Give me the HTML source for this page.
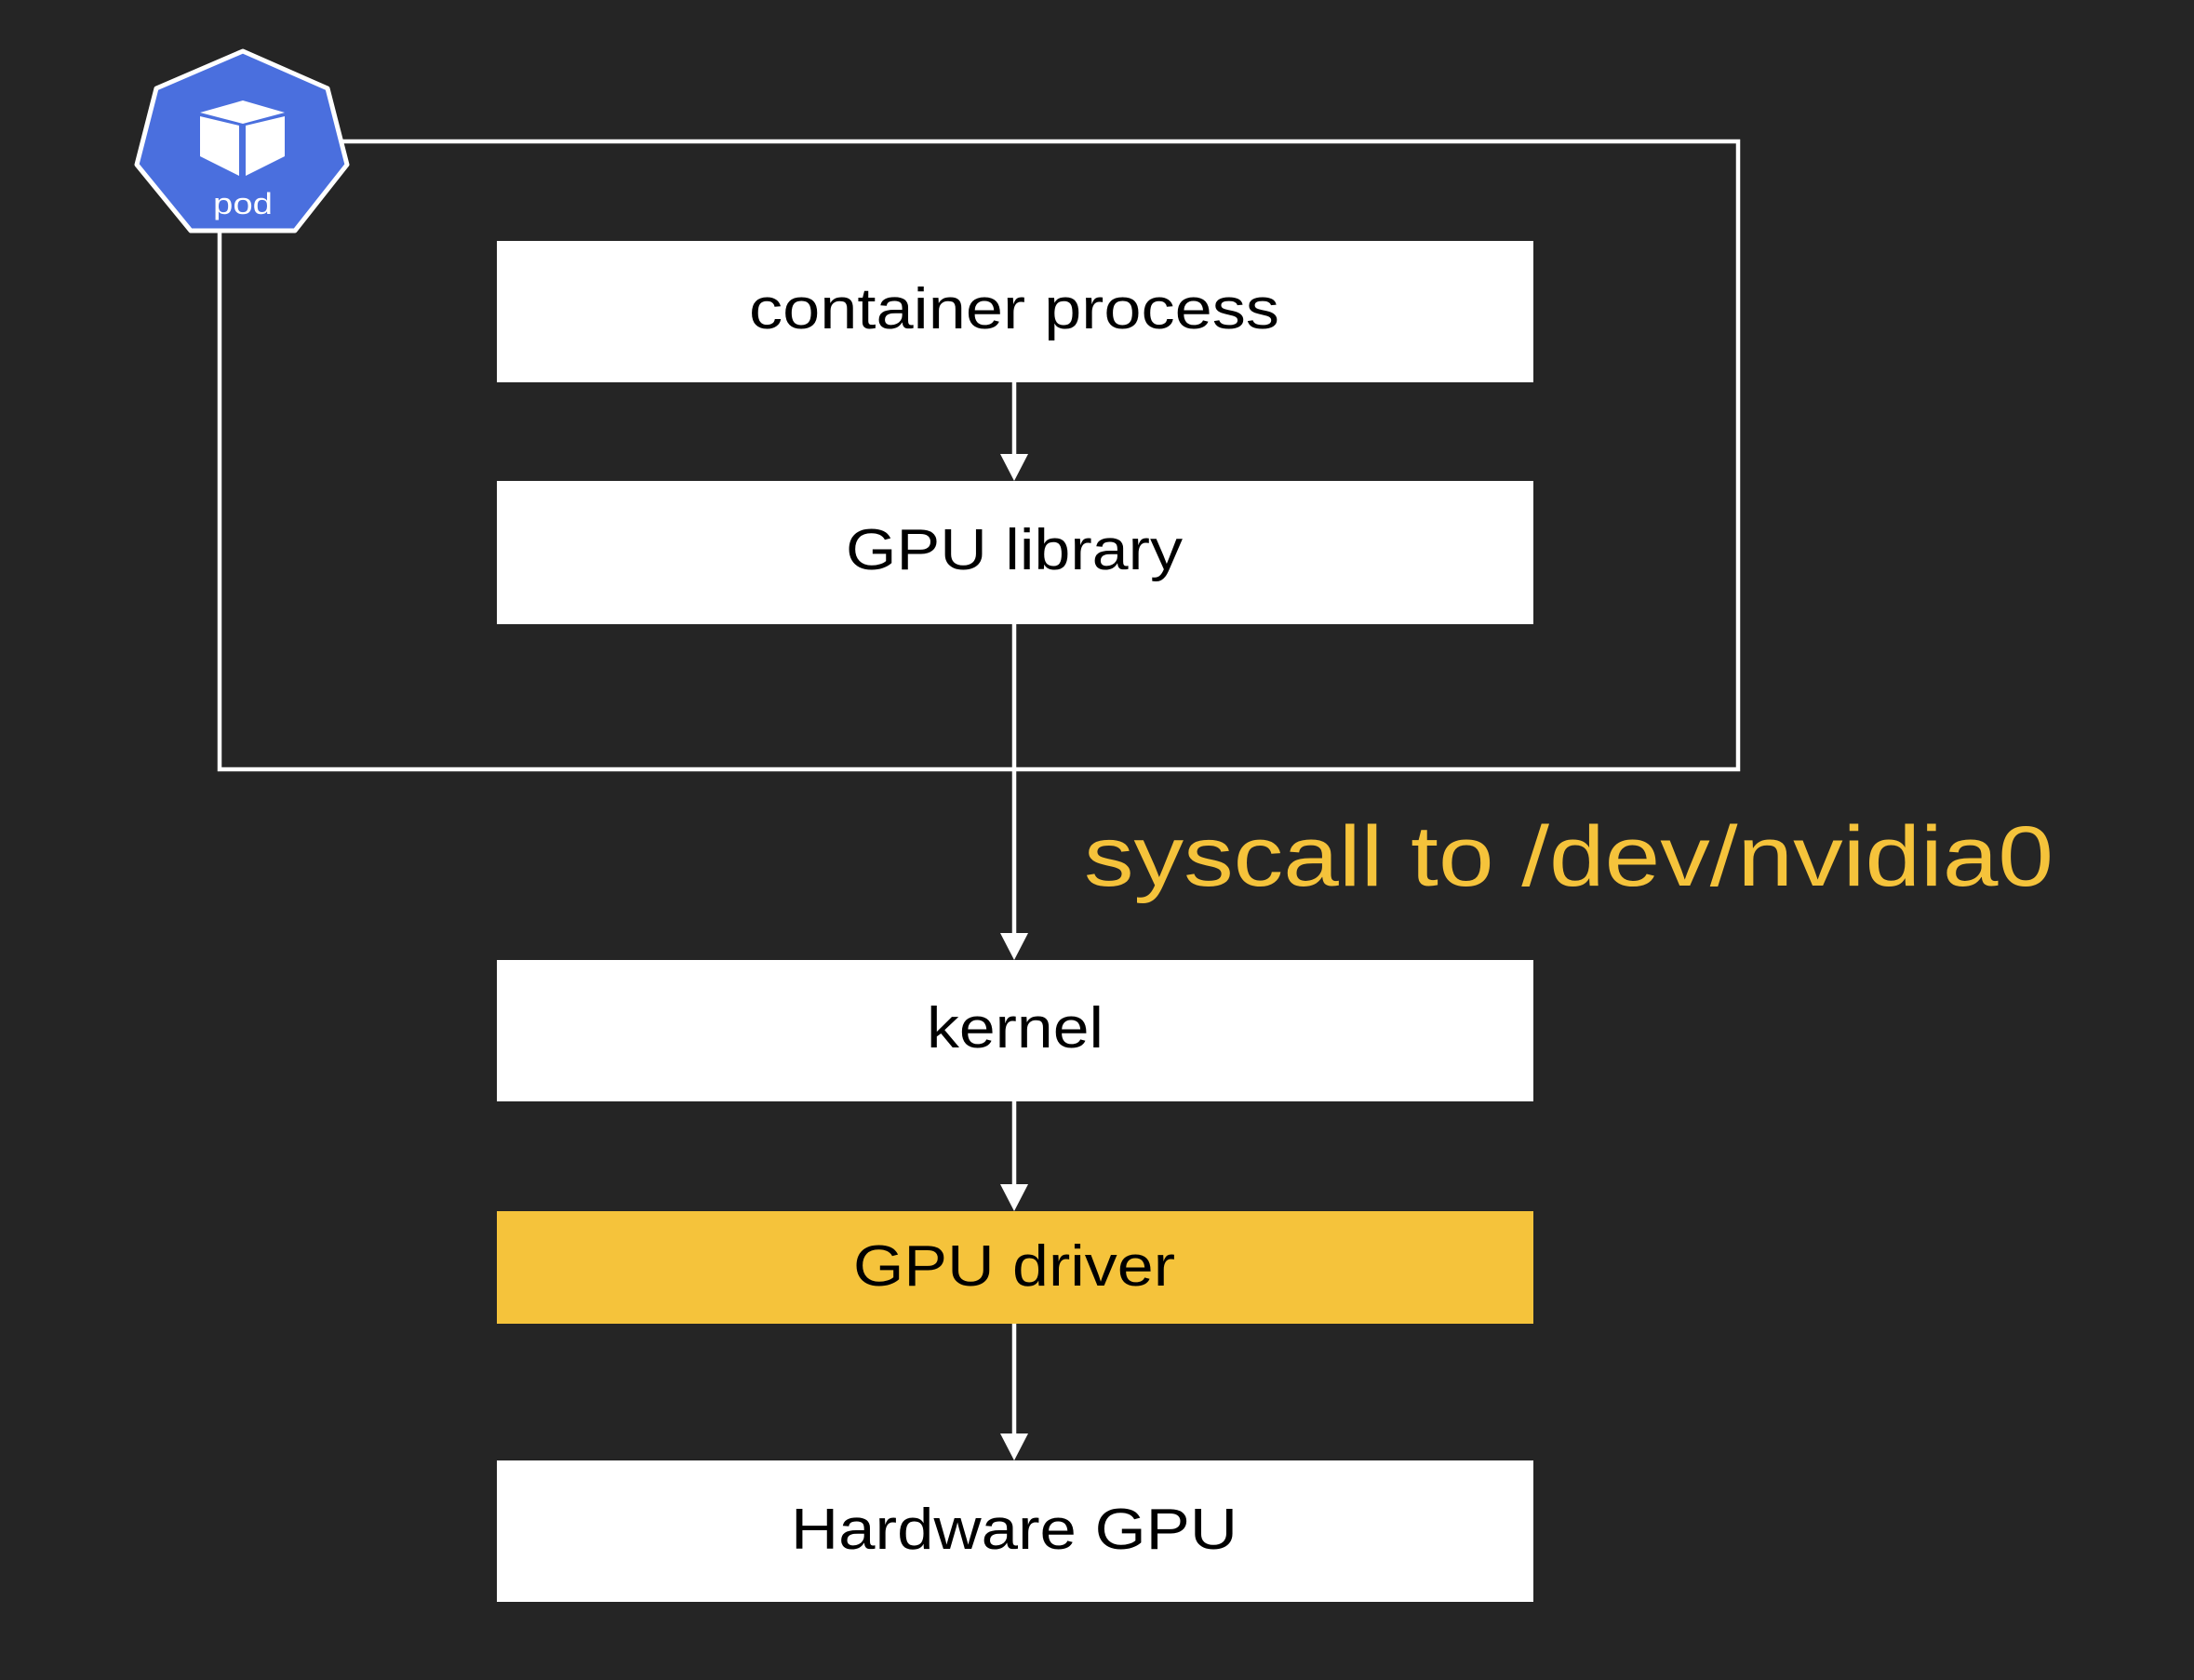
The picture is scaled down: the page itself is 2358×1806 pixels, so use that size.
<!DOCTYPE html>
<html><head><meta charset="utf-8"><style>
html,body{margin:0;padding:0;background:#252525;}
body{width:2358px;height:1806px;position:relative;overflow:hidden;}
</style></head><body>
<svg width="2358" height="1806" style="position:absolute;left:0;top:0" font-family="Liberation Sans, NanumGothic, sans-serif">
<rect x="236" y="152" width="1632" height="675" fill="none" stroke="#fff" stroke-width="4.5"/>
<rect x="534" y="259" width="1114" height="152" fill="#fff"/>
<rect x="534" y="517" width="1114" height="154" fill="#fff"/>
<rect x="534" y="1032" width="1114" height="152" fill="#fff"/>
<rect x="534" y="1302" width="1114" height="121" fill="#f5c33b"/>
<rect x="534" y="1570" width="1114" height="152" fill="#fff"/>
<g stroke="#fff" stroke-width="4.5" fill="#fff">
<line x1="1090" y1="411" x2="1090" y2="492"/>
<polygon points="1075,488 1105,488 1090,517" stroke="none"/>
<line x1="1090" y1="671" x2="1090" y2="1005"/>
<polygon points="1075,1003 1105,1003 1090,1032" stroke="none"/>
<line x1="1090" y1="1184" x2="1090" y2="1276"/>
<polygon points="1075,1273 1105,1273 1090,1302" stroke="none"/>
<line x1="1090" y1="1423" x2="1090" y2="1544"/>
<polygon points="1075,1541 1105,1541 1090,1570" stroke="none"/>
</g>
<polygon points="261,55 352,95 373,177 317,248 205,248 147,177 168,95" fill="#4a6fde" stroke="#fff" stroke-width="5" stroke-linejoin="round"/>
<g fill="#fff">
<polygon points="261,108 306,121 261,133 215,121"/>
<polygon points="215,125 257,135 257,189 215,168"/>
<polygon points="264,135 306,125 306,168 264,189"/>
</g>
<text x="261" y="230" fill="#fff" font-size="32" text-anchor="middle" textLength="64" lengthAdjust="spacingAndGlyphs">pod</text>
<g font-size="62" fill="#000">
<text x="805" y="353" textLength="570" lengthAdjust="spacingAndGlyphs">container process</text>
<text x="909" y="612" textLength="362" lengthAdjust="spacingAndGlyphs">GPU library</text>
<text x="996" y="1126" textLength="190" lengthAdjust="spacingAndGlyphs">kernel</text>
<text x="917" y="1382" textLength="346" lengthAdjust="spacingAndGlyphs">GPU driver</text>
<text x="850" y="1665" textLength="480" lengthAdjust="spacingAndGlyphs">Hardware GPU</text>
</g>
<text x="1165" y="952" fill="#f5c33b" font-size="92" textLength="1042" lengthAdjust="spacingAndGlyphs">syscall to /dev/nvidia0</text>
</svg>
</body></html>
